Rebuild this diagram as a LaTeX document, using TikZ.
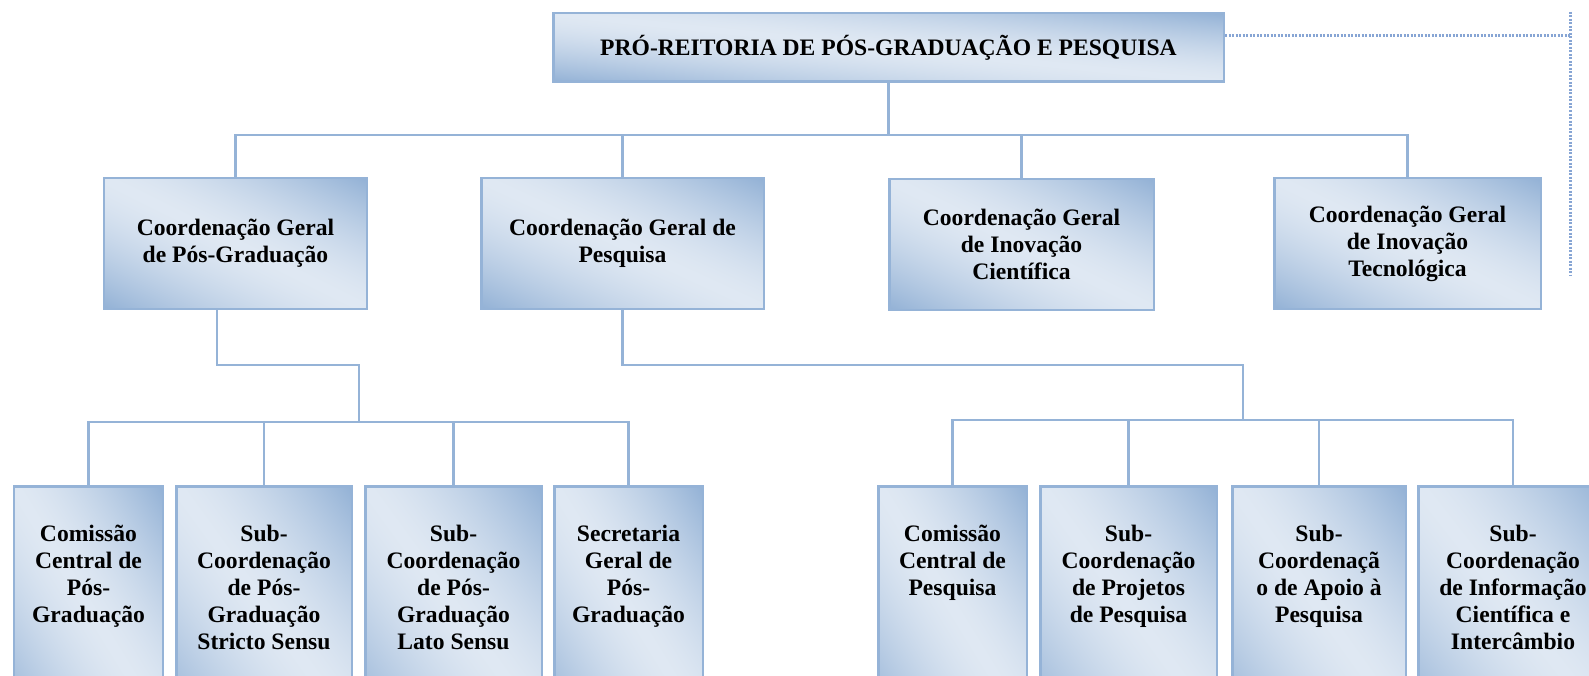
\documentclass[tikz,border=0pt]{standalone}
\usepackage{fontspec}
\setmainfont{Liberation Serif}
\usetikzlibrary{positioning}
\definecolor{linkblue}{RGB}{149,179,215}
\definecolor{dotblue}{RGB}{135,165,212}

% dark at top right and bottom left, light along the other diagonal
\pgfdeclarefunctionalshading{diagband}{\pgfpoint{0bp}{0bp}}{\pgfpoint{100bp}{100bp}}{}{
  add 100 sub abs 50 div dup sqrt mul
  dup -0.300 mul 0.875 add exch dup -0.215 mul 0.910 add exch -0.115 mul 0.952 add
}

\begin{document}
\begin{tikzpicture}[x=1bp,y=-1bp,node distance=11bp,
  font=\fontsize{23.6bp}{27bp}\selectfont\bfseries,
  orgbox/.style={draw=linkblue,line width=2.5bp,shading=diagband,shade,align=flush center},
  cgbox/.style={orgbox,minimum height=130.5bp,minimum width=#1},
  subbox/.style={orgbox,text width=#1,inner xsep=4bp,inner ysep=37bp,text height=18bp,text depth=150bp},
  link/.style={draw=linkblue,line width=2.5bp},
  dotlink/.style={draw=dotblue,line width=3bp,dash pattern=on 2bp off 1.5bp}]
  \clip (0,0) rectangle (1589,676);

  \node[orgbox,minimum width=670.5bp,minimum height=68.5bp] (pr) at (888.5,47.5) {PRÓ-REITORIA DE PÓS-GRADUAÇÃO E PESQUISA};

  \node[cgbox=262.5bp] (cg1) at (235.5,243.5) {Coordenação Geral\\de Pós-Graduação};
  \node[cgbox=282.5bp] (cg2) at (622.5,243.5) {Coordenação Geral de\\Pesquisa};
  \node[cgbox=264.5bp] (cg3) at (1021.5,244.5) {Coordenação Geral\\de Inovação\\Científica};
  \node[cgbox=266.5bp] (cg4) at (1407.5,243.5) {Coordenação Geral\\de Inovação\\Tecnológica};

  % pos-graduacao
  \node[subbox=140.5bp,anchor=north] (s1) at (88.5,485) {Comissão\\Central de\\Pós-\\Graduação};
  \node[subbox=167.5bp,right=of s1] (s2) {Sub-\\Coordenação\\de Pós-\\Graduação\\Stricto Sensu};
  \node[subbox=168.5bp,right=of s2] (s3) {Sub-\\Coordenação\\de Pós-\\Graduação\\Lato Sensu};
  \node[subbox=140.5bp,right=10bp of s3] (s4) {Secretaria\\Geral de\\Pós-\\Graduação};

  % pesquisa
  \node[subbox=140.5bp,anchor=north] (s5) at (952.5,485) {Comissão\\Central de\\Pesquisa};
  \node[subbox=168.5bp,right=of s5] (s6) {Sub-\\Coordenação\\de Projetos\\de Pesquisa};
  \node[subbox=165.5bp,right=13bp of s6] (s7) {Sub-\\Coordenaçã\\o de Apoio à\\Pesquisa};
  \node[subbox=181.5bp,right=10bp of s7] (s8) {Sub-\\Coordenação\\de Informação\\Científica e\\Intercâmbio};

  \coordinate (bus1) at (889,135);
  \coordinate (bus2) at (359,422);
  \coordinate (bus3) at (1243,420);
  \coordinate (dtop) at (1570,12);
  \coordinate (dbot) at (1570,275);

  \draw[link] (pr.south) -- (pr.south |- bus1);
  \draw[link] (cg1.north) |- (bus1) -| (cg4.north);
  \draw[link] (cg2.north) -- (cg2.north |- bus1);
  \draw[link] (cg3.north) -- (cg3.north |- bus1);

  \draw[link] ([xshift=-18.5bp]cg1.south) -- ++(0,55) -| (bus2);
  \draw[link] (s1.north) |- (bus2) -| (s4.north);
  \draw[link] (s2.north) -- (s2.north |- bus2);
  \draw[link] (s3.north) -- (s3.north |- bus2);

  \draw[link] (cg2.south) -- ++(0,55) -| (bus3);
  \draw[link] (s5.north) |- (bus3) -| (s8.north);
  \draw[link] (s6.north) -- (s6.north |- bus3);
  \draw[link] (s7.north) -- (s7.north |- bus3);

  \draw[dotlink] ([yshift=12bp]pr.east) -- ([yshift=12bp]pr.east -| dtop);
  \draw[dotlink] (dtop) -- (dbot);
\end{tikzpicture}
\end{document}
